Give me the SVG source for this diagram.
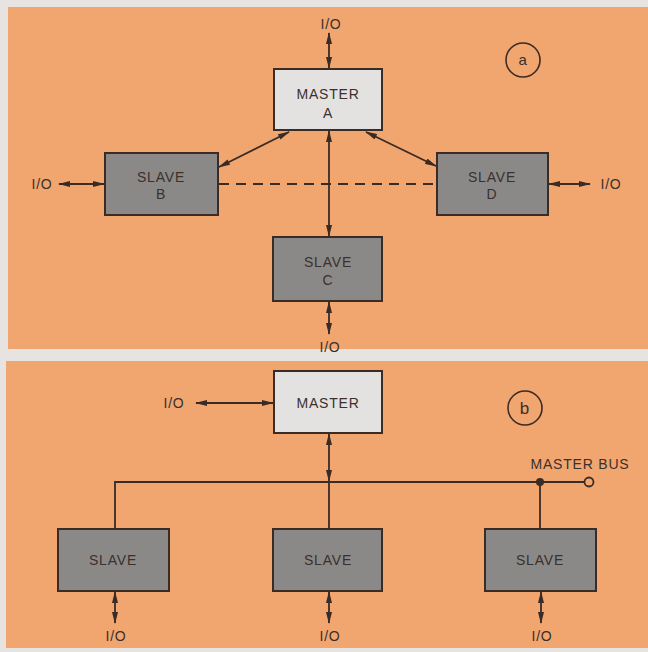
<svg xmlns="http://www.w3.org/2000/svg" width="648" height="652" viewBox="0 0 648 652">
<style>
.panel{fill:#f1a56f}
.master{fill:#e4e2e0;stroke:#3a2b24;stroke-width:2}
.slave{fill:#8b8988;stroke:#3a2b24;stroke-width:2}
.ln{stroke:#3a2b24;stroke-width:1.8;fill:none}
.t{font-family:"Liberation Sans",Arial,sans-serif;font-size:14px;fill:#3a302c;text-anchor:middle;letter-spacing:0.8px}
</style>
<defs>
<marker id="ah" viewBox="0 0 12 6" refX="11" refY="3" markerWidth="12" markerHeight="6" markerUnits="userSpaceOnUse" orient="auto-start-reverse">
<path d="M0,0 L12,3 L0,6 Z" fill="#3a2b24"/>
</marker>
</defs>
<rect width="648" height="652" fill="#e6e3e0"/>
<rect class="panel" x="8" y="7" width="640" height="342"/>
<rect class="panel" x="6" y="361" width="642" height="287"/>

<g id="connectors">
<line class="ln" x1="329" y1="33" x2="329" y2="68" marker-start="url(#ah)" marker-end="url(#ah)"/>
<line class="ln" x1="289" y1="132" x2="219" y2="167" marker-start="url(#ah)" marker-end="url(#ah)"/>
<line class="ln" x1="366" y1="132" x2="436" y2="166" marker-start="url(#ah)" marker-end="url(#ah)"/>
<line class="ln" x1="329" y1="131" x2="329" y2="236" marker-start="url(#ah)" marker-end="url(#ah)"/>
<line class="ln" x1="59" y1="184" x2="104" y2="184" marker-start="url(#ah)" marker-end="url(#ah)"/>
<line class="ln" x1="549" y1="184" x2="590" y2="184" marker-start="url(#ah)" marker-end="url(#ah)"/>
<line class="ln" x1="219" y1="184" x2="436" y2="184" stroke-dasharray="10,7"/>
<line class="ln" x1="329" y1="302" x2="329" y2="334" marker-start="url(#ah)" marker-end="url(#ah)"/>

<line class="ln" x1="196" y1="403" x2="273" y2="403" marker-start="url(#ah)" marker-end="url(#ah)"/>
<line class="ln" x1="329" y1="434" x2="329" y2="481" marker-start="url(#ah)" marker-end="url(#ah)"/>
<line class="ln" x1="329" y1="481" x2="329" y2="529"/>
<polyline class="ln" points="115,529 115,482 585,482"/>
<line class="ln" x1="540" y1="482" x2="540" y2="529"/>
<circle cx="540" cy="482" r="4" fill="#3a2b24"/>
<circle cx="589" cy="482" r="4.5" fill="none" stroke="#3a2b24" stroke-width="1.8"/>
<line class="ln" x1="115" y1="592" x2="115" y2="623" marker-start="url(#ah)" marker-end="url(#ah)"/>
<line class="ln" x1="329" y1="592" x2="329" y2="623" marker-start="url(#ah)" marker-end="url(#ah)"/>
<line class="ln" x1="541" y1="592" x2="541" y2="623" marker-start="url(#ah)" marker-end="url(#ah)"/>
</g>

<g id="label-a">
<circle cx="523" cy="60" r="17" fill="none" stroke="#3a2b24" stroke-width="1.6"/>
<text class="t" x="523" y="65" style="font-size:15px">a</text>
</g>
<g id="label-b">
<circle cx="525" cy="408" r="17" fill="none" stroke="#3a2b24" stroke-width="1.6"/>
<text class="t" x="525" y="414" style="font-size:17px">b</text>
</g>

<g id="io-a-top"><text class="t" x="331" y="29">I/O</text></g>
<g id="io-a-left"><text class="t" x="42" y="189">I/O</text></g>
<g id="io-a-right"><text class="t" x="611" y="189">I/O</text></g>
<g id="io-a-bottom"><text class="t" x="330" y="352">I/O</text></g>

<g id="master-a">
<rect class="master" x="274" y="69" width="108" height="61"/>
<text class="t" x="328" y="99">MASTER</text>
<text class="t" x="328" y="118">A</text>
</g>
<g id="slave-b">
<rect class="slave" x="105" y="153" width="113" height="62"/>
<text class="t" x="161" y="182">SLAVE</text>
<text class="t" x="161" y="199">B</text>
</g>
<g id="slave-d">
<rect class="slave" x="437" y="153" width="111" height="62"/>
<text class="t" x="492" y="182">SLAVE</text>
<text class="t" x="492" y="199">D</text>
</g>
<g id="slave-c">
<rect class="slave" x="273" y="237" width="109" height="64"/>
<text class="t" x="328" y="267">SLAVE</text>
<text class="t" x="328" y="285">C</text>
</g>

<g id="master-b">
<rect class="master" x="274" y="371" width="108" height="62"/>
<text class="t" x="328" y="408">MASTER</text>
</g>
<g id="io-b-left"><text class="t" x="174" y="408">I/O</text></g>
<g id="bus-label"><text class="t" x="580" y="469">MASTER BUS</text></g>
<g id="slave-b1">
<rect class="slave" x="58" y="529" width="111" height="62"/>
<text class="t" x="113" y="565">SLAVE</text>
</g>
<g id="slave-b2">
<rect class="slave" x="273" y="529" width="109" height="62"/>
<text class="t" x="328" y="565">SLAVE</text>
</g>
<g id="slave-b3">
<rect class="slave" x="485" y="529" width="111" height="62"/>
<text class="t" x="540" y="565">SLAVE</text>
</g>
<g id="io-b-1"><text class="t" x="116" y="641">I/O</text></g>
<g id="io-b-2"><text class="t" x="330" y="641">I/O</text></g>
<g id="io-b-3"><text class="t" x="542" y="641">I/O</text></g>
</svg>
